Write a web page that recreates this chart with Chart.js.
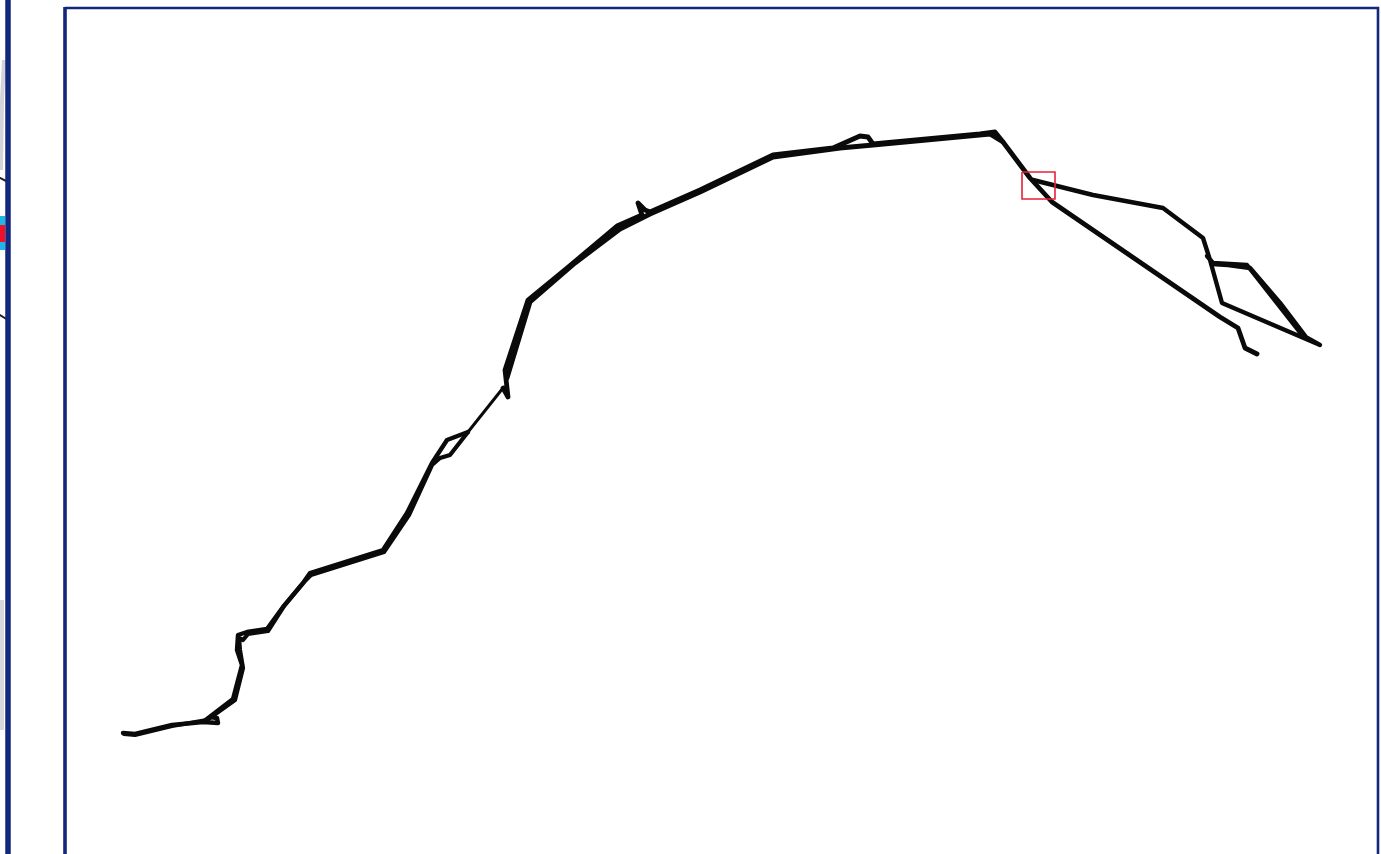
<!DOCTYPE html>
<html><head><meta charset="utf-8">
<style>html,body{margin:0;padding:0;background:#fff;overflow:hidden}canvas{display:block}</style>
<script src="https://cdn.jsdelivr.net/npm/chart.js@4"></script>
</head><body><canvas id="c" width="1381" height="854"></canvas>
<script>
// Trace values
const riseLowX = [123,135,172,203,218,217,210,203,233,238,242,237,238,247,267,283,303,310,383,407,432,447,468];
const riseLowY = [733,734,725,722,723,718,717,722,699,680,665,650,635,632,629,607,583,573,550,513,463,440,432];
const connectorX = [468,503];
const connectorY = [432,388];
const riseHighX = [503,508,505,528,567,617,642,638,645,650,700,773,833,860,868,873,980,995,1003,1030,1052,1220,1238,1245,1257];
const riseHighY = [388,397,370,300,268,226,215,203,210,212,190,155,148,136,137,144,134,132,142,178,202,317,328,348,354];
const upperReturnX = [1003,990,873,840,773,700,650,620,575,530,507];
const upperReturnY = [142,134,145,148,157,192,214,229,263,302,378];
const lowerReturnX = [468,450,440,432,409,384,311,305,284,268,248,243,239,240,243,235,207,172,135,124];
const lowerReturnY = [432,455,458,465,515,552,575,581,606,631,634,640,638,650,668,700,720,726,735,734];
const branchX = [1033,1093,1163,1203,1210,1222,1320,1302,1247,1213,1207];
const branchY = [180,195,208,238,260,303,345,335,265,263,256];
const branchThickX = [1305,1280,1250,1228,1212];
const branchThickY = [336,303,268,265,264];
const frameX = [65,1378,1378];
const frameY = [8,8,860];
const frameLeftX = [65,65];
const frameLeftY = [7,860];
const sideBarX = [8,8];
const sideBarY = [-5,860];
const sideTickAX = [0,8];
const sideTickAY = [178,182];
const sideTickBX = [0,8];
const sideTickBY = [315,320];
const cyanX = [2,2];
const cyanY = [216,250];
const redX = [2,2];
const redY = [225,242];
const smudgeAX = [4,2,1];
const smudgeAY = [60,100,170];
const smudgeBX = [2,2];
const smudgeBY = [600,730];
const boxX = [1022,1055,1055,1022,1022];
const boxY = [172,172,199,199,172];

const pts = (xs, ys) => xs.map((x, i) => ({x, y: ys[i]}));
const ds = (xs, ys, color, width) => ({
  data: pts(xs, ys), borderColor: color, borderWidth: width, showLine: true,
  pointRadius: 0, tension: 0, fill: false, borderJoinStyle: 'round', borderCapStyle: 'round'
});
const flat = (xs, ys, color, width) => Object.assign(ds(xs, ys, color, width), {borderCapStyle: 'butt', borderJoinStyle: 'miter'});

// Chart.js paints the first dataset last, so the topmost mark comes first
new Chart(document.getElementById('c'), {
  type: 'scatter',
  data: {datasets: [
    flat(boxX, boxY, '#e8203a', 1.6),
    ds(branchThickX, branchThickY, '#0a0a0a', 4.6),
    ds(branchX, branchY, '#0a0a0a', 4.4),
    ds(lowerReturnX, lowerReturnY, '#0a0a0a', 4.2),
    ds(upperReturnX, upperReturnY, '#0a0a0a', 4.8),
    ds(connectorX, connectorY, '#0a0a0a', 3),
    ds(riseHighX, riseHighY, '#0a0a0a', 4.8),
    ds(riseLowX, riseLowY, '#0a0a0a', 4.4),
    flat(frameLeftX, frameLeftY, '#13277c', 3.6),
    flat(frameX, frameY, '#13277c', 2.6),
    flat(sideBarX, sideBarY, '#13277c', 5.5),
    flat(redX, redY, '#f0102a', 6),
    flat(cyanX, cyanY, '#1fb6e8', 6),
    ds(sideTickBX, sideTickBY, '#222', 2),
    ds(sideTickAX, sideTickAY, '#222', 2),
    flat(smudgeBX, smudgeBY, '#d8d8dc', 4),
    flat(smudgeAX, smudgeAY, '#d4d4d8', 4)
  ]},
  options: {
    responsive: false, animation: false, devicePixelRatio: 1,
    layout: {padding: 0},
    plugins: {legend: {display: false}, tooltip: {enabled: false}, title: {display: false}},
    scales: {
      x: {type: 'linear', min: 0, max: 1381, display: false},
      y: {type: 'linear', min: 0, max: 854, reverse: true, display: false}
    }
  }
});
</script></body></html>
